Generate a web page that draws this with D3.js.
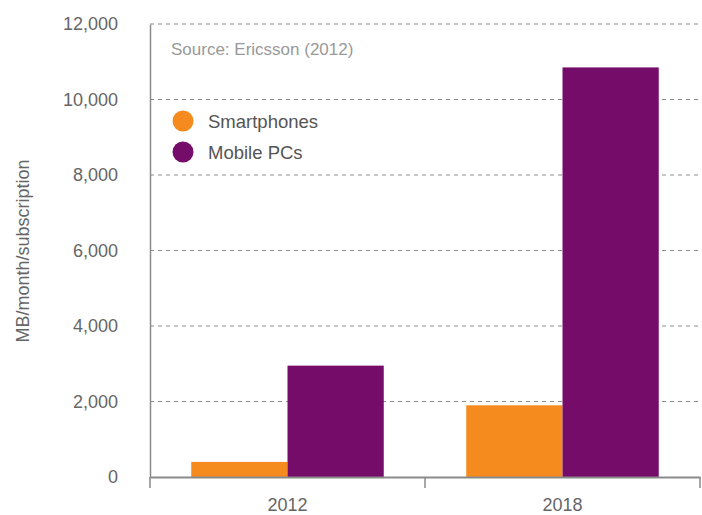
<!DOCTYPE html>
<html>
<head>
<meta charset="utf-8">
<script src="https://cdn.jsdelivr.net/npm/d3@7"></script>
<style>
  body { margin: 0; background: #fff; }
  text { font-family: "Liberation Sans", Arial, Helvetica, sans-serif; }
</style>
</head>
<body>
<div id="chart"></div>
<script>
// data
const years = ["2012", "2018"];
const seriesNames = ["Smartphones", "Mobile PCs"];
const smartphones = [400, 1900];
const mobilePCs = [2950, 10850];
const yTicks = [0, 2000, 4000, 6000, 8000, 10000, 12000];
const seriesColors = ["#f58b1f", "#760c6a"];

const width = 702, height = 515;
const margin = {top: 24, right: 2, bottom: 38, left: 150};

const svg = d3.select("#chart").append("svg")
    .attr("width", width)
    .attr("height", height);

const x0 = d3.scaleBand()
    .domain(years)
    .range([margin.left, width - margin.right])
    .paddingInner(0.3)
    .paddingOuter(0.15);

const x1 = d3.scaleBand()
    .domain(seriesNames)
    .range([0, x0.bandwidth()]);

const y = d3.scaleLinear()
    .domain([0, 12000])
    .range([height - margin.bottom, margin.top]);

const color = d3.scaleOrdinal().domain(seriesNames).range(seriesColors);

// dashed gridlines
svg.append("g")
    .selectAll("line")
    .data(yTicks.filter(d => d > 0))
    .enter().append("line")
    .attr("x1", margin.left)
    .attr("x2", width - margin.right)
    .attr("y1", d => y(d))
    .attr("y2", d => y(d))
    .attr("stroke", "#8c8c8c")
    .attr("stroke-width", 1.2)
    .attr("stroke-dasharray", "4,4");

// bars
const rows = years.map((yr, i) => ({year: yr, values: [smartphones[i], mobilePCs[i]]}));
svg.append("g")
    .selectAll("g")
    .data(rows)
    .enter().append("g")
    .attr("transform", d => "translate(" + x0(d.year) + ",0)")
    .selectAll("rect")
    .data(d => d.values.map((v, j) => ({name: seriesNames[j], value: v})))
    .enter().append("rect")
    .attr("x", d => x1(d.name))
    .attr("width", x1.bandwidth())
    .attr("y", d => y(d.value))
    .attr("height", d => y(0) - y(d.value))
    .attr("fill", d => color(d.name));

// y axis
const yAxis = svg.append("g")
    .attr("transform", "translate(" + margin.left + ",0)")
    .call(d3.axisLeft(y).tickValues(yTicks).tickSize(0).tickPadding(32)
        .tickFormat(d3.format(",")));
yAxis.select(".domain").attr("stroke", "#8a8a8a").attr("stroke-width", 1.5);
yAxis.selectAll("text").attr("fill", "#666").style("font-size", "18px");

// x axis
const xAxis = svg.append("g")
    .attr("transform", "translate(0," + y(0) + ")")
    .call(d3.axisBottom(x0).tickSize(0).tickPadding(21));
xAxis.select(".domain").attr("stroke", "#8a8a8a").attr("stroke-width", 2);
xAxis.selectAll("text").attr("fill", "#666").style("font-size", "18px");

// x axis separator ticks at band edges
const edges = [x0.range()[0], x0(years[1]) - x0.step() * x0.paddingInner() / 2, x0.range()[1]];
xAxis.selectAll(".sep")
    .data(edges)
    .enter().append("line")
    .attr("class", "sep")
    .attr("x1", d => d).attr("x2", d => d)
    .attr("y1", 0).attr("y2", 11)
    .attr("stroke", "#8a8a8a")
    .attr("stroke-width", 1.5);

// y label
svg.append("text")
    .attr("transform", "translate(29,251) rotate(-90)")
    .attr("text-anchor", "middle")
    .attr("fill", "#666")
    .style("font-size", "18px")
    .text("MB/month/subscription");

// source note
svg.append("text")
    .attr("x", 171)
    .attr("y", 55)
    .attr("fill", "#999")
    .style("font-size", "17px")
    .text("Source: Ericsson (2012)");

// legend
const legend = svg.append("g")
    .selectAll("g")
    .data(seriesNames)
    .enter().append("g")
    .attr("transform", (d, i) => "translate(183," + (121 + i * 31) + ")");
legend.append("circle")
    .attr("r", 10.5)
    .attr("fill", d => color(d));
legend.append("text")
    .attr("x", 25)
    .attr("y", 6.5)
    .attr("fill", "#555")
    .style("font-size", "18.5px")
    .text(d => d);
</script>
</body>
</html>
